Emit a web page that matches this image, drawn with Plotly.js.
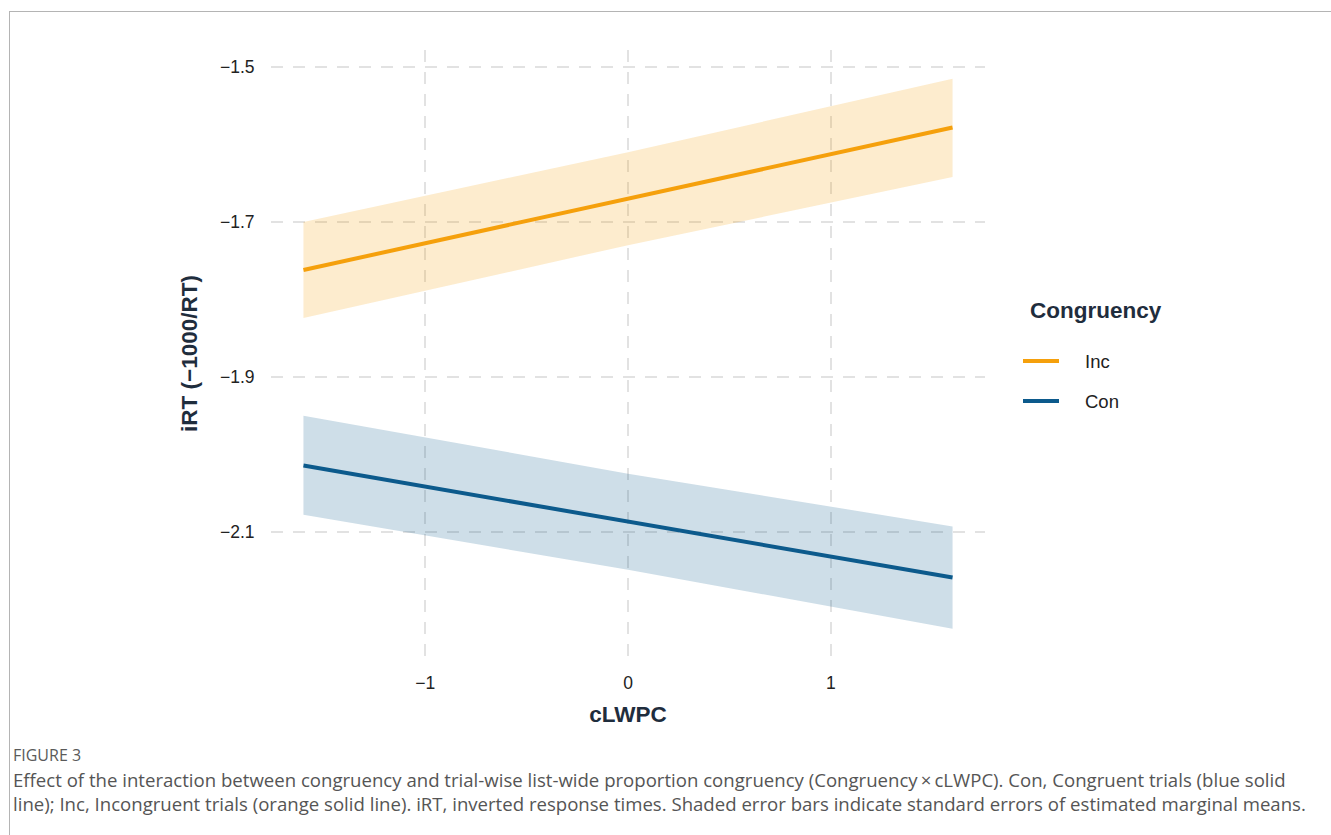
<!DOCTYPE html>
<html>
<head>
<meta charset="utf-8">
<script src="https://cdn.plot.ly/plotly-3.0.1.min.js"></script>
<style>
  html, body { margin: 0; padding: 0; background: #ffffff; overflow: hidden; }
  #chart { width: 1331px; height: 835px; }
  #frame { position: absolute; left: 9px; top: 11px; width: 2000px; height: 2000px;
           border: 1px solid #b4b4b4; pointer-events: none; }
</style>
</head>
<body>
<div id="chart"></div>
<div id="frame"></div>
<script>
// ---- data ----
const cLWPC = [-1.6, 0, 1.6];
const incFit   = [-1.762, -1.670, -1.578];
const incUpper = [-1.700, -1.610, -1.515];
const incLower = [-1.824, -1.730, -1.642];
const conFit   = [-2.0145, -2.087, -2.159];
const conUpper = [-1.950, -2.025, -2.093];
const conLower = [-2.078, -2.149, -2.225];
const yTicks = [-1.5, -1.7, -1.9, -2.1];
const yTickText = ['\u22121.5', '\u22121.7', '\u22121.9', '\u22122.1'];
const xTicks = [-1, 0, 1];
const xTickText = ['\u22121', '0', '1'];
const seriesNames = ['Inc', 'Con'];
const legendTitle = 'Congruency';

const orange = '#F5A00C';
const blue = '#0C5A8C';
const seriesColors = [orange, blue];
const darkText = '#1f2d3d';
const fontMain = 'Liberation Sans, Arial, sans-serif';

function band(upper, lower, fill) {
  return {
    x: cLWPC.concat(cLWPC.slice().reverse()),
    y: upper.concat(lower.slice().reverse()),
    type: 'scatter', mode: 'lines', fill: 'toself',
    fillcolor: fill, line: { width: 0, color: 'rgba(0,0,0,0)' },
    hoverinfo: 'skip', showlegend: false
  };
}

const traces = [
  band(incUpper, incLower, 'rgba(245,160,12,0.2)'),
  band(conUpper, conLower, 'rgba(12,90,140,0.2)'),
  { x: cLWPC, y: incFit, type: 'scatter', mode: 'lines', name: seriesNames[0],
    line: { color: orange, width: 4 }, showlegend: false },
  { x: cLWPC, y: conFit, type: 'scatter', mode: 'lines', name: seriesNames[1],
    line: { color: blue, width: 4 }, showlegend: false }
];

const W = 1331, H = 835;
const L = 271, R = 985, T = 50, B = 657;
const pw = R - L, ph = B - T;
const px = v => (v - L) / pw;
const py = v => (B - v) / ph;

// legend (drawn as layout shapes + annotations)
const legendItemsY = [361, 401];
const legendShapes = seriesNames.map((n, i) => ({
  type: 'line', xref: 'paper', yref: 'paper',
  x0: px(1023), x1: px(1059), y0: py(legendItemsY[i]), y1: py(legendItemsY[i]),
  line: { color: seriesColors[i], width: 4 }
}));
const legendTexts = seriesNames.map((n, i) => ({
  xref: 'paper', yref: 'paper', x: px(1083), y: py(legendItemsY[i]),
  xanchor: 'left', yanchor: 'middle', showarrow: false, text: n,
  font: { family: fontMain, size: 18.5, color: '#222222' }
}));

const layout = {
  width: W, height: H,
  margin: { l: L, r: W - R, t: T, b: H - B, pad: 0 },
  paper_bgcolor: '#ffffff', plot_bgcolor: '#ffffff',
  font: { family: fontMain, color: '#222222', size: 17.5 },
  showlegend: false,
  xaxis: {
    range: [-1.76, 1.76], tickvals: xTicks, ticktext: xTickText,
    showgrid: true, gridcolor: '#e2e2e2', gridwidth: 2, griddash: '12px,10px',
    zeroline: false, showline: false,
    ticks: 'outside', ticklen: 10, tickcolor: 'rgba(0,0,0,0)',
    tickfont: { size: 17.5, color: '#222222' },
    title: { text: 'cLWPC', font: { size: 22.5, color: darkText, family: fontMain, weight: 'bold' }, standoff: 14 }
  },
  yaxis: {
    range: [-2.2616, -1.478], tickvals: yTicks, ticktext: yTickText,
    showgrid: true, gridcolor: '#e2e2e2', gridwidth: 2, griddash: '12px,10px',
    zeroline: false, showline: false,
    ticks: 'outside', ticklen: 12, tickcolor: 'rgba(0,0,0,0)',
    tickfont: { size: 17.5, color: '#222222' },
    title: { text: 'iRT (\u22121000/RT)', font: { size: 22.5, color: darkText, family: fontMain, weight: 'bold' }, standoff: 16 }
  },
  shapes: legendShapes,
  annotations: [
    { xref: 'paper', yref: 'paper', x: px(1028), y: py(310), xanchor: 'left', yanchor: 'middle',
      showarrow: false, text: '<b>' + legendTitle + '</b>',
      font: { family: fontMain, size: 22.5, color: darkText } },
    ...legendTexts,
    { xref: 'paper', yref: 'paper', x: px(11), y: py(755), xanchor: 'left', yanchor: 'middle',
      showarrow: false, text: 'FIGURE 3',
      font: { family: 'Open Sans, sans-serif', size: 16, color: '#5a5a5a' } },
    { xref: 'paper', yref: 'paper', x: px(11), y: py(791.5), xanchor: 'left', yanchor: 'middle',
      showarrow: false, align: 'left',
      text: 'Effect of the interaction between congruency and trial-wise list-wide proportion congruency (Congruency\u2009\u00d7\u2009cLWPC). Con, Congruent trials (blue solid<br>line); Inc, Incongruent trials (orange solid line). iRT, inverted response times. Shaded error bars indicate standard errors of estimated marginal means.',
      font: { family: 'Open Sans, sans-serif', size: 18.6, color: '#555555' } }
  ]
};

Plotly.newPlot('chart', traces, layout, { displayModeBar: false, staticPlot: true });
</script>
</body>
</html>
